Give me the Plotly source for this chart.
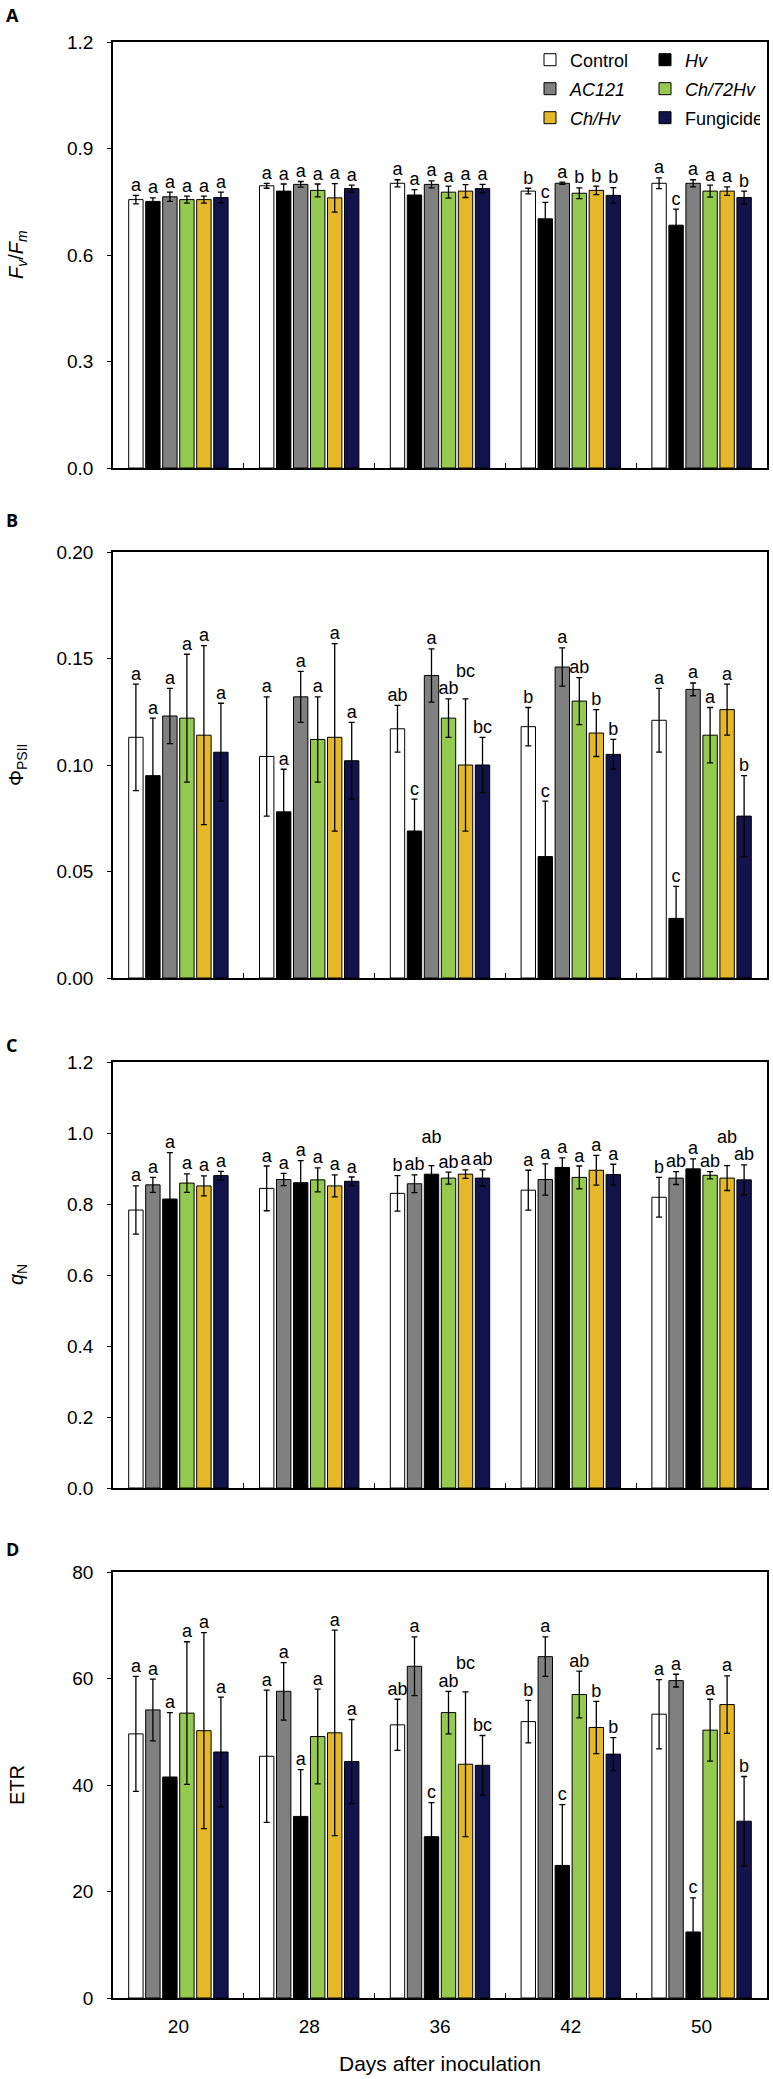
import plotly.graph_objects as go
from plotly.subplots import make_subplots

# 处理及天数
DAYS = ['20', '28', '36', '42', '50']
TREATMENTS = ['Control', 'Hv', 'AC121', 'Ch/72Hv', 'Ch/Hv', 'Fungicide']
LEGEND_NAMES = ['Control', '<i>Hv</i>', '<i>AC121</i>', '<i>Ch/72Hv</i>', '<i>Ch/Hv</i>', 'Fungicide']
COLORS = ['#ffffff', '#000000', '#808080', '#95c94f', '#e5b82a', '#13134b']

# A: Fv/Fm  (顺序同 TREATMENTS)
FVFM_MEAN = [[0.756, 0.795, 0.802, 0.780, 0.802],
             [0.751, 0.780, 0.769, 0.702, 0.684],
             [0.764, 0.799, 0.799, 0.802, 0.802],
             [0.756, 0.782, 0.777, 0.774, 0.780],
             [0.756, 0.761, 0.780, 0.782, 0.780],
             [0.762, 0.787, 0.787, 0.768, 0.762]]
FVFM_ERR = [[0.012, 0.007, 0.010, 0.008, 0.015],
            [0.010, 0.020, 0.015, 0.046, 0.045],
            [0.013, 0.008, 0.010, 0.003, 0.010],
            [0.010, 0.018, 0.017, 0.015, 0.017],
            [0.010, 0.040, 0.018, 0.012, 0.012],
            [0.015, 0.010, 0.012, 0.022, 0.018]]
FVFM_LET = [['a', 'a', 'a', 'b', 'a'],
            ['a', 'a', 'a', 'c', 'c'],
            ['a', 'a', 'a', 'a', 'a'],
            ['a', 'a', 'a', 'b', 'a'],
            ['a', 'a', 'a', 'b', 'a'],
            ['a', 'a', 'a', 'b', 'b']]

# B: ΦPSII
PHI_MEAN = [[0.113, 0.104, 0.117, 0.118, 0.121],
            [0.095, 0.078, 0.069, 0.057, 0.028],
            [0.123, 0.132, 0.142, 0.146, 0.1355],
            [0.122, 0.112, 0.122, 0.130, 0.114],
            [0.114, 0.113, 0.100, 0.115, 0.126],
            [0.106, 0.102, 0.100, 0.105, 0.076]]
PHI_ERR = [[0.025, 0.028, 0.011, 0.009, 0.015],
           [0.027, 0.020, 0.015, 0.026, 0.015],
           [0.013, 0.012, 0.0125, 0.009, 0.003],
           [0.030, 0.020, 0.009, 0.011, 0.013],
           [0.042, 0.044, 0.031, 0.011, 0.012],
           [0.023, 0.018, 0.013, 0.007, 0.019]]
PHI_LET = [['a', 'a', 'ab', 'b', 'a'],
           ['a', 'a', 'c', 'c', 'c'],
           ['a', 'a', 'a', 'a', 'a'],
           ['a', 'a', 'ab', 'ab', 'a'],
           ['a', 'a', 'bc', 'b', 'a'],
           ['a', 'a', 'bc', 'b', 'b']]

# C: qN
QN_MEAN = [[0.783, 0.844, 0.830, 0.839, 0.819],
           [0.814, 0.860, 0.884, 0.903, 0.899],
           [0.854, 0.869, 0.857, 0.869, 0.873],
           [0.859, 0.868, 0.873, 0.875, 0.881],
           [0.851, 0.851, 0.884, 0.895, 0.873],
           [0.880, 0.864, 0.873, 0.883, 0.868]]
QN_ERR = [[0.068, 0.063, 0.050, 0.056, 0.056],
          [0.131, 0.062, 0.024, 0.027, 0.028],
          [0.021, 0.017, 0.025, 0.044, 0.018],
          [0.026, 0.034, 0.017, 0.032, 0.010],
          [0.028, 0.031, 0.012, 0.042, 0.035],
          [0.012, 0.012, 0.023, 0.029, 0.042]]
QN_LET = [['a', 'a', 'b', 'a', 'b'],
          ['a', 'a', 'ab', 'a', 'a'],
          ['a', 'a', 'ab', 'a', 'ab'],
          ['a', 'a', 'ab', 'a', 'ab'],
          ['a', 'a', 'a', 'a', 'ab'],
          ['a', 'a', 'ab', 'a', 'ab']]

# D: ETR
ETR_MEAN = [[49.6, 45.4, 51.3, 51.9, 53.3],
            [41.5, 34.1, 30.3, 24.9, 12.4],
            [54.1, 57.6, 62.3, 64.1, 59.6],
            [53.5, 49.1, 53.6, 57.0, 50.3],
            [50.2, 49.8, 43.9, 50.8, 55.1],
            [46.2, 44.4, 43.7, 45.8, 33.2]]
ETR_ERR = [[10.8, 12.4, 4.8, 4.0, 6.5],
           [12.1, 8.8, 6.4, 11.4, 6.4],
           [5.8, 5.4, 5.5, 3.7, 1.2],
           [13.4, 8.9, 4.0, 4.4, 5.8],
           [18.4, 19.3, 13.6, 4.9, 5.4],
           [10.3, 7.9, 5.6, 3.1, 8.4]]
ETR_LET = [['a', 'a', 'ab', 'b', 'a'],
           ['a', 'a', 'c', 'c', 'c'],
           ['a', 'a', 'a', 'a', 'a'],
           ['a', 'a', 'ab', 'ab', 'a'],
           ['a', 'a', 'bc', 'b', 'a'],
           ['a', 'a', 'bc', 'b', 'b']]

# 每个面板中柱子的排列顺序（C、D 中 AC121 在 Hv 前面）
ORDER_AB = [0, 1, 2, 3, 4, 5]
ORDER_CD = [0, 2, 1, 3, 4, 5]

W, H = 773, 2079
FONT = 'Liberation Sans, Arial, sans-serif'
STEP = 0.13
BAR_W = 0.11
PANEL_H = 426

panels = [
    dict(mean=FVFM_MEAN, err=FVFM_ERR, let=FVFM_LET, order=ORDER_AB, rng=[0, 1.2], dtick=0.3, fmt='.1f',
         title='<i>F</i><sub><i>v</i></sub>/<i>F</i><sub><i>m</i></sub>', tag='A', top=42, tag_y=15),
    dict(mean=PHI_MEAN, err=PHI_ERR, let=PHI_LET, order=ORDER_AB, rng=[0, 0.2], dtick=0.05, fmt='.2f',
         title='Φ<sub>PSII</sub>', tag='B', top=552, tag_y=520),
    dict(mean=QN_MEAN, err=QN_ERR, let=QN_LET, order=ORDER_CD, rng=[0, 1.2], dtick=0.2, fmt='.1f',
         title='<i>q</i><sub>N</sub>', tag='C', top=1062, tag_y=1045),
    dict(mean=ETR_MEAN, err=ETR_ERR, let=ETR_LET, order=ORDER_CD, rng=[0, 80], dtick=20, fmt='d',
         title='ETR', tag='D', top=1572, tag_y=1549),
]
legend_of = ['legend', 'legend', 'legend2', 'legend2', 'legend3', 'legend3']


def letter_y(p):
    """字母放在误差线顶端；相邻两个双字母标签高度接近时，把后一个抬高一行避免重叠"""
    span = p['rng'][1] - p['rng'][0]
    ys = {t: [m + e for m, e in zip(p['mean'][t], p['err'][t])] for t in p['order']}
    for g in range(len(DAYS)):
        prev, prev_raised = None, False
        for t in p['order']:
            lab = p['let'][t][g]
            raised = False
            if prev is not None and len(lab) > 1 and len(p['let'][prev][g]) > 1 and not prev_raised \
                    and abs(ys[t][g] - ys[prev][g]) < 0.06 * span:
                ys[t][g] = ys[t][g] + 0.042 * span
                raised = True
            prev, prev_raised = t, raised
    return ys


fig = make_subplots(rows=4, cols=1)
annotations = []

for p_idx, p in enumerate(panels):
    row = p_idx + 1
    lab_y = letter_y(p)
    for pos, t in enumerate(p['order']):
        xs = [g + (pos - 2.5) * STEP for g in range(len(DAYS))]
        fig.add_trace(go.Bar(
            x=xs, y=p['mean'][t], width=BAR_W, name=LEGEND_NAMES[t],
            marker=dict(color=COLORS[t], line=dict(color='black', width=1)),
            error_y=dict(type='data', array=p['err'][t], color='black', thickness=1.3, width=3),
            showlegend=(p_idx == 0), legend=legend_of[t], hoverinfo='skip',
        ), row=row, col=1)
        # 显著性字母
        fig.add_trace(go.Scatter(
            x=xs, y=lab_y[t], mode='text',
            text=p['let'][t], textposition='top center',
            textfont=dict(family=FONT, size=18, color='black'),
            showlegend=False, hoverinfo='skip', cliponaxis=False,
        ), row=row, col=1)

    y0 = 1 - (p['top'] + PANEL_H) / H
    y1 = 1 - p['top'] / H
    fig.update_yaxes(domain=[y0, y1], range=p['rng'], dtick=p['dtick'], tick0=0, tickformat=p['fmt'],
                     row=row, col=1)
    fig.update_xaxes(domain=[113 / W, 767 / W], showticklabels=(row == 4), row=row, col=1)

    annotations.append(dict(text=p['title'], xref='paper', yref='paper', x=17 / W, y=(y0 + y1) / 2,
                            textangle=-90, showarrow=False, xanchor='center', yanchor='middle',
                            font=dict(family=FONT, size=20, color='black')))
    annotations.append(dict(text='<b>%s</b>' % p['tag'], xref='paper', yref='paper', x=4 / W,
                            y=1 - p['tag_y'] / H, showarrow=False, xanchor='left', yanchor='middle',
                            font=dict(family='Open Sans, DejaVu Sans, sans-serif', size=18, color='black')))

annotations.append(dict(text='Days after inoculation', xref='paper', yref='paper', x=440 / W, y=1 - 2063 / H,
                        showarrow=False, xanchor='center', yanchor='middle',
                        font=dict(family=FONT, size=21, color='black')))

fig.update_xaxes(range=[-0.5, 4.5], tickvals=list(range(len(DAYS))), ticktext=DAYS, ticks='',
                 minor=dict(tickvals=[0.5, 1.5, 2.5, 3.5], ticks='inside', ticklen=5, tickwidth=1,
                            tickcolor='black'),
                 showline=True, mirror=True, linecolor='black', linewidth=1.5, showgrid=False, zeroline=False,
                 tickfont=dict(family=FONT, size=19, color='black'), ticklabelstandoff=10)
fig.update_yaxes(showline=True, mirror=True, linecolor='black', linewidth=1.5, ticks='outside', ticklen=4,
                 tickwidth=1.2, tickcolor='black', showgrid=False, zeroline=False,
                 tickfont=dict(family=FONT, size=19, color='black'), ticklabelstandoff=10)

legend_style = dict(orientation='h', xanchor='left', yanchor='middle', x=530 / W, entrywidth=70,
                    entrywidthmode='pixels', bgcolor='rgba(0,0,0,0)', borderwidth=0,
                    font=dict(family=FONT, size=18, color='black'))
fig.update_layout(
    width=W, height=H, template='none', barmode='overlay',
    margin=dict(l=0, r=0, t=0, b=0), plot_bgcolor='white', paper_bgcolor='white',
    legend=dict(legend_style, y=1 - 60 / H),
    legend2=dict(legend_style, y=1 - 89 / H),
    legend3=dict(legend_style, y=1 - 118 / H),
    annotations=annotations,
)

# 去掉页面默认边距，让图从左上角开始；隐藏工具栏
fig.write_html('out.html', config={'displayModeBar': False},
               post_script="document.body.style.margin='0';")
